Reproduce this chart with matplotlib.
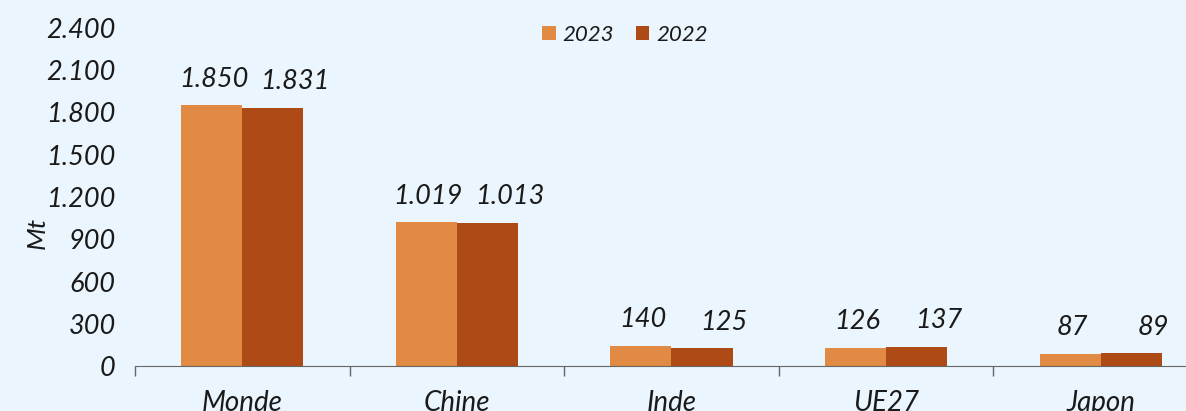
import matplotlib
matplotlib.use('Agg')
import matplotlib.pyplot as plt
import numpy as np
from matplotlib.ticker import FuncFormatter, FixedLocator

categories = ['Monde', 'Chine', 'Inde', 'UE27', 'Japon']
values_2023 = [1850, 1019, 140, 126, 87]
values_2022 = [1831, 1013, 125, 137, 89]
yticks = [0, 300, 600, 900, 1200, 1500, 1800, 2100, 2400]

BG = '#EAF5FD'
C23 = '#E08A43'
C22 = '#AD4A15'
TXT = '#1a1a1a'
FONT = 'Lato'

fig = plt.figure(figsize=(11.86, 4.11), dpi=100)
fig.patch.set_facecolor(BG)
# axes runs a little past the right edge, as in the source image
ax = fig.add_axes([135 / 1186, 45 / 411, 1073 / 1186, 338 / 411])
ax.set_facecolor(BG)

x = np.arange(len(categories))
w = 0.285
b23 = ax.bar(x - w / 2, values_2023, w, color=C23, label='2023')
b22 = ax.bar(x + w / 2, values_2022, w, color=C22, label='2022')

ax.set_xlim(-0.5, len(categories) - 0.5)
ax.set_ylim(0, 2400)


def fmt_num(v):
    return f'{int(v):,}'.replace(',', '.')


for bars, vals, dx in ((b23, values_2023, 2), (b22, values_2022, 22)):
    for bar, v in zip(bars, vals):
        ax.annotate(fmt_num(v), (bar.get_x() + bar.get_width() / 2, v),
                    xytext=(dx * 0.72, 10), textcoords='offset points',
                    ha='center', va='bottom', fontsize=19.5, style='italic',
                    family=FONT, color=TXT)

ax.yaxis.set_major_locator(FixedLocator(yticks))
ax.yaxis.set_major_formatter(FuncFormatter(lambda v, p: fmt_num(v)))
ax.tick_params(axis='y', length=0, pad=14)
for lab in ax.get_yticklabels():
    lab.set_fontsize(19.5)
    lab.set_fontstyle('italic')
    lab.set_family(FONT)
    lab.set_color(TXT)

ax.set_xticks(x)
ax.set_xticklabels(categories, fontsize=20, style='italic', family=FONT, color=TXT)
ax.set_xticks(np.arange(-0.5, len(categories)), minor=True)
ax.tick_params(axis='x', which='major', length=0, pad=17)
ax.tick_params(axis='x', which='minor', length=7, color='#666666', width=1)

for s in ('top', 'right', 'left'):
    ax.spines[s].set_visible(False)
ax.spines['bottom'].set_color('#666666')

fig.text(37 / 1186, 1 - 233 / 411, 'Mt', rotation=90, ha='center', va='center',
         fontsize=19, style='italic', family=FONT, color=TXT)

leg = fig.legend(handles=[b23, b22], labels=['2023', '2022'], loc='center',
                 bbox_to_anchor=(625 / 1186, 1 - 35 / 411), ncol=2, frameon=False,
                 handlelength=0.6, handleheight=0.6, handletextpad=0.3,
                 columnspacing=1.0, prop={'family': FONT, 'style': 'italic', 'size': 16})
for t in leg.get_texts():
    t.set_color(TXT)

fig.savefig('out.png', dpi=100, facecolor=BG)
